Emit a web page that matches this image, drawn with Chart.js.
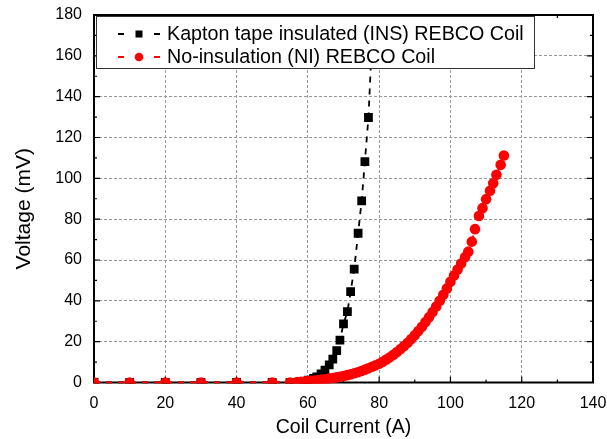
<!DOCTYPE html>
<html>
<head>
<meta charset="utf-8">
<script src="https://cdn.jsdelivr.net/npm/chart.js@4.4.1/dist/chart.umd.min.js"></script>
<style>
  html, body { margin: 0; padding: 0; background: #fff; }
  #wrap { width: 607px; height: 439px; }
</style>
</head>
<body>
<div id="wrap"><canvas id="ivChart"></canvas></div>
<script>
// Kapton tape insulated coil (INS)
const insCurrent = [0, 10, 20, 30, 40, 50, 55, 58.8, 60.2, 61.6, 62.5, 63.7, 64.8, 66.0, 67.0, 68.1, 69.0, 70.0, 71.1, 72.0, 73.0, 74.1, 75.1, 76.0, 77.0, 78.0];
const insVoltage = [0, 0, 0, 0, 0, 0, 0, 0.4, 1.2, 2.0, 2.8, 4.2, 6.1, 8.6, 11.5, 15.6, 20.8, 28.7, 34.7, 44.5, 55.5, 73.1, 89.0, 108.2, 129.8, 168];

// No-insulation coil (NI)
const niCurrent = [0, 10, 20, 30, 40, 50, 55, 57, 58, 59, 60, 61, 62, 63, 64, 65, 66, 67, 68, 69, 70,
  71, 72, 73, 74, 75, 76, 77, 78, 79, 80, 81, 82, 83, 84, 85, 86, 87, 88, 89, 90,
  91, 92, 93, 94, 95, 96, 97, 98, 99, 100, 101, 102, 103, 104.1, 105, 106, 106.9, 108, 109, 110,
  111.1, 112, 112.9, 114.1, 115];
const niVoltage = [0, 0, 0, 0, 0, 0, 0, 0.2, 0.3, 0.5, 0.7, 0.8, 1.0, 1.2, 1.4, 1.6, 1.9, 2.2, 2.5, 2.8, 3.2,
  3.6, 4.0, 4.5, 5.0, 5.6, 6.3, 7.0, 7.7, 8.4, 9.2, 10.2, 11.3, 12.4, 13.6, 14.9, 16.4, 17.9, 19.5, 21.3, 23.2,
  25.2, 27.3, 29.6, 32.0, 34.5, 37.2, 40.0, 43.0, 46.1, 49.3, 52.4, 55.3, 58.3, 61.4, 64.1, 69.0, 75.1, 81.6, 85.4, 89.8,
  93.9, 97.6, 101.7, 106.6, 111.2];

const xTickValues = [0, 20, 40, 60, 80, 100, 120, 140];
const yTickValues = [0, 20, 40, 60, 80, 100, 120, 140, 160, 180];
const xMinorStep = 10;
const yMinorStep = 10;

const legendLabels = ['Kapton tape insulated (INS) REBCO Coil', 'No-insulation (NI) REBCO Coil'];
const yTitle = 'Voltage (mV)';

const FONT = "'Liberation Sans', Arial, sans-serif";

function toPoints(xs, ys) {
  return xs.map((x, i) => ({ x: x, y: ys[i] }));
}

// no extra room for the end labels, the layout padding covers it
function noLabelPadding(s) {
  s.paddingLeft = 0; s.paddingRight = 0;
  s.paddingTop = 0; s.paddingBottom = 0;
}

// box, inward ticks on all four sides (drawn under the data like the original plot)
const frameTicks = {
  id: 'frameTicks',
  beforeDatasetsDraw(chart) {
    const { ctx, chartArea: a, scales: { x, y } } = chart;
    ctx.save();
    ctx.strokeStyle = '#000';
    ctx.lineWidth = 1.2;
    ctx.beginPath();
    for (let v = x.min; v <= x.max; v += xMinorStep) {
      const px = x.getPixelForValue(v);
      const len = xTickValues.includes(v) ? 6 : 3;
      ctx.moveTo(px, a.bottom); ctx.lineTo(px, a.bottom - len);
      ctx.moveTo(px, a.top); ctx.lineTo(px, a.top + len);
    }
    for (let v = y.min; v <= y.max; v += yMinorStep) {
      const py = y.getPixelForValue(v);
      const len = yTickValues.includes(v) ? 6 : 3;
      ctx.moveTo(a.left, py); ctx.lineTo(a.left + len, py);
      ctx.moveTo(a.right, py); ctx.lineTo(a.right - len, py);
    }
    ctx.stroke();
    ctx.lineWidth = 2;
    ctx.strokeRect(a.left, a.top, a.right - a.left, a.bottom - a.top);

    // y axis title, sits a little below the middle of the axis
    ctx.translate(24, (a.top + a.bottom) / 2 + 10);
    ctx.rotate(-Math.PI / 2);
    ctx.fillStyle = '#000';
    ctx.font = '21px ' + FONT;
    ctx.textAlign = 'center';
    ctx.textBaseline = 'middle';
    ctx.fillText(yTitle, 0, 0);
    ctx.restore();
  }
};

// boxed legend in the top-left corner, sits over the data
const boxLegend = {
  id: 'boxLegend',
  afterDatasetsDraw(chart) {
    const { ctx, chartArea: a } = chart;
    const bx = a.left + 2, by = a.top + 1, bw = 438, bh = 52;
    ctx.save();
    ctx.fillStyle = '#fff';
    ctx.fillRect(bx, by, bw, bh);
    ctx.strokeStyle = '#333';
    ctx.lineWidth = 1;
    ctx.strokeRect(bx + 0.5, by + 0.5, bw, bh);

    const rows = [by + 18, by + 41];
    const mx = bx + 43;
    chart.data.datasets.forEach((ds, i) => {
      const ry = rows[i];
      ctx.strokeStyle = ds.borderColor;
      ctx.lineWidth = 2;
      ctx.beginPath();
      ctx.moveTo(mx - 21, ry); ctx.lineTo(mx - 15, ry);
      ctx.moveTo(mx + 15, ry); ctx.lineTo(mx + 21, ry);
      ctx.stroke();
      ctx.fillStyle = ds.pointBackgroundColor;
      if (ds.pointStyle === 'rect') {
        ctx.fillRect(mx - 3.5, ry - 3.5, 7, 7);
      } else {
        ctx.beginPath();
        ctx.arc(mx, ry, 4.3, 0, Math.PI * 2);
        ctx.fill();
      }
      ctx.fillStyle = '#000';
      ctx.font = '19.7px ' + FONT;
      ctx.textBaseline = 'middle';
      ctx.textAlign = 'left';
      ctx.fillText(ds.label, bx + 71, ry + 1);
    });
    ctx.restore();
  }
};

const ctx = document.getElementById('ivChart').getContext('2d');
const ivChart = new Chart(ctx, {
  type: 'line',
  data: {
    datasets: [{
      label: legendLabels[0],
      data: toPoints(insCurrent, insVoltage),
      borderColor: '#000',
      backgroundColor: '#000',
      pointBackgroundColor: '#000',
      pointStyle: 'rect',
      pointRadius: 6.2,
      pointBorderWidth: 0,
      borderWidth: 1.8,
      borderDash: [6, 6],
      tension: 0,
      order: 2,
      clip: { left: 0, top: 0, right: 0, bottom: 1 }
    }, {
      label: legendLabels[1],
      data: toPoints(niCurrent, niVoltage),
      borderColor: '#ff0000',
      backgroundColor: '#ff0000',
      pointBackgroundColor: '#ff0000',
      pointStyle: 'circle',
      pointRadius: 5.3,
      pointBorderWidth: 0,
      borderWidth: 1.8,
      borderDash: [6, 6],
      tension: 0,
      order: 1,
      clip: { left: 0, top: 0, right: 0, bottom: 1 }
    }]
  },
  options: {
    responsive: true,
    maintainAspectRatio: false,
    animation: false,
    layout: { padding: { left: 0, top: 15, right: 14, bottom: 0 } },
    plugins: {
      legend: { display: false },
      tooltip: { enabled: false }
    },
    scales: {
      x: {
        type: 'linear',
        min: 0,
        max: 140,
        afterBuildTicks: s => { s.ticks = xTickValues.map(v => ({ value: v })); },
        afterFit: s => { s.height = 56.5; noLabelPadding(s); },
        ticks: { color: '#000', padding: 11, maxRotation: 0, font: { family: FONT, size: 16 } },
        grid: { color: '#999', lineWidth: 1, drawTicks: false },
        border: { display: false, dash: [3, 2] },
        title: {
          display: true,
          text: 'Coil Current (A)',
          color: '#000',
          font: { family: FONT, size: 19.5 },
          padding: { top: 0, bottom: 0 }
        }
      },
      y: {
        type: 'linear',
        min: 0,
        max: 180,
        afterBuildTicks: s => { s.ticks = yTickValues.map(v => ({ value: v })); },
        afterFit: s => { s.width = 94; noLabelPadding(s); },
        ticks: { color: '#000', padding: 12, font: { family: FONT, size: 16 } },
        grid: { color: '#999', lineWidth: 1, drawTicks: false },
        border: { display: false, dash: [3, 2] }
      }
    }
  },
  plugins: [frameTicks, boxLegend]
});
</script>
</body>
</html>
